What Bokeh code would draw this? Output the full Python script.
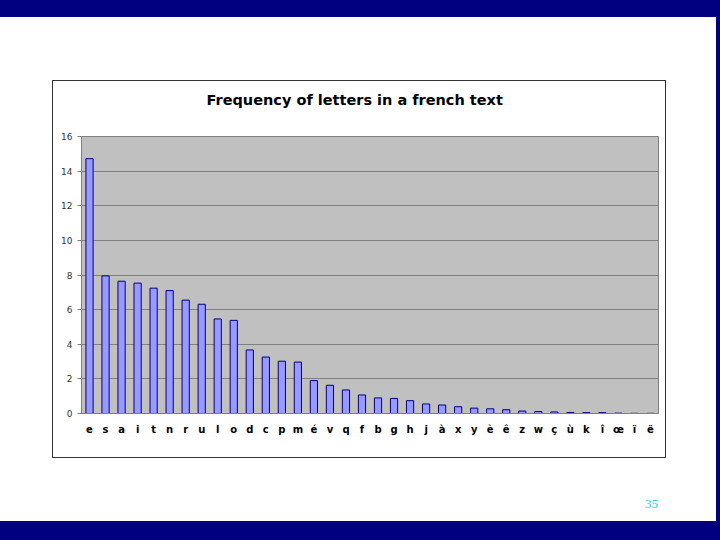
from bokeh.plotting import figure
from bokeh.models import Range1d, FactorRange, ColumnDataSource, Div, Title
from bokeh.layouts import column, row
from bokeh.embed import file_html
from bokeh.resources import INLINE

letters = ["e", "s", "a", "i", "t", "n", "r", "u", "l", "o", "d", "c", "p", "m", "é",
           "v", "q", "f", "b", "g", "h", "j", "à", "x", "y", "è", "ê", "z", "w", "ç",
           "ù", "k", "î", "œ", "ï", "ë"]
freqs = [14.72, 7.95, 7.64, 7.53, 7.24, 7.10, 6.55, 6.31, 5.46, 5.38, 3.67, 3.26, 3.02,
         2.97, 1.90, 1.63, 1.36, 1.07, 0.90, 0.87, 0.74, 0.55, 0.49, 0.39, 0.31, 0.27,
         0.22, 0.14, 0.11, 0.09, 0.06, 0.05, 0.05, 0.02, 0.01, 0.01]
y_ticks = [0, 2, 4, 6, 8, 10, 12, 14, 16]
title_text = "Frequency of letters in a french text"
page_number = "35"

NAVY = "#000080"

p = figure(width=614, height=378, output_backend="svg", toolbar_location=None,
           x_range=FactorRange(factors=letters, range_padding=0),
           y_range=Range1d(0, 16),
           min_border_left=28, min_border_right=9, min_border_top=55, min_border_bottom=46,
           margin=0, styles={"border": "1.5px solid #333333"})

p.title = None

# spacer (nearest the frame), then the real title above it
title_style = dict(text_font="DejaVu Sans", text_font_style="bold",
                   text_font_size="14.5px", text_color="black")
p.add_layout(Title(text=" ", standoff=11, **title_style), "above")
p.add_layout(Title(text=title_text, align="left", offset=125, standoff=0, **title_style), "above")

p.background_fill_color = "#C0C0C0"
p.border_fill_color = "white"
p.outline_line_color = "#808080"
p.outline_line_width = 1

src = ColumnDataSource(dict(x=letters, top=freqs))
p.vbar(x="x", top="top", width=0.45, bottom=0, source=src,
       fill_color="#9999FF", line_color=NAVY, line_width=1)

p.xgrid.grid_line_color = None
p.ygrid.grid_line_color = "#808080"
p.ygrid.grid_line_width = 1
p.yaxis.ticker = y_ticks
p.yaxis.axis_line_color = "#808080"
p.yaxis.major_tick_line_color = "#808080"
p.yaxis.major_tick_in = 0
p.yaxis.major_tick_out = 4
p.yaxis.minor_tick_line_color = None
p.yaxis.major_label_text_font = "DejaVu Sans"
p.yaxis.major_label_text_font_size = "9px"
p.yaxis.major_label_text_color = "#333333"
p.yaxis.major_label_standoff = 5

p.xaxis.axis_line_color = "#808080"
p.xaxis.major_tick_line_color = None
p.xaxis.major_label_text_font = "DejaVu Sans"
p.xaxis.major_label_text_font_style = "bold"
p.xaxis.major_label_text_font_size = "10px"
p.xaxis.major_label_text_color = "black"
p.xaxis.major_label_standoff = 4

top_bar = Div(width=720, height=17, margin=0, styles={"background-color": NAVY})
bottom_bar = Div(width=720, height=19, margin=0, styles={"background-color": NAVY})
right_bar = Div(width=4, height=504, margin=0, styles={"background-color": NAVY})
left_space = Div(width=52, height=504, margin=0)
right_space = Div(width=50, height=504, margin=0)
above_space = Div(width=614, height=63, margin=0)
below_space = Div(width=614, height=63, margin=0,
                  text=f'<div style="position:absolute; left:593px; top:37px; '
                       f'font-family:\'Liberation Serif\'; font-size:13px; color:#33CCCC;">{page_number}</div>')

middle = row(left_space, column(above_space, p, below_space, margin=0, spacing=0),
             right_space, right_bar, margin=0, spacing=0)
layout = column(top_bar, middle, bottom_bar, margin=0, spacing=0)

open("out.html", "w").write(file_html(layout, INLINE))
